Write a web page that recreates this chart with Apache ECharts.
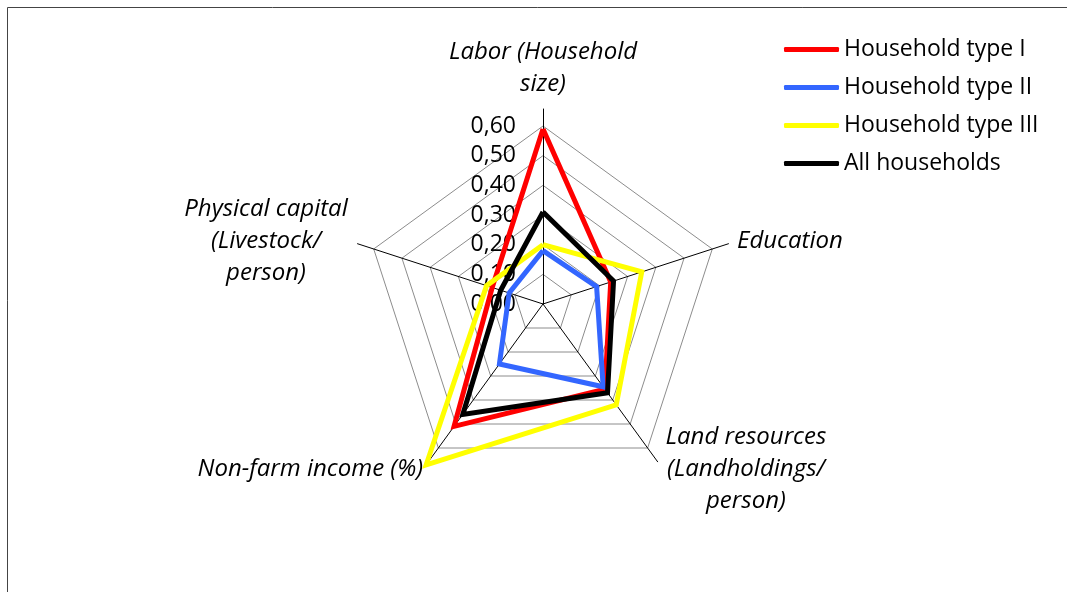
<!DOCTYPE html>
<html>
<head>
<meta charset="utf-8">
<script src="https://cdn.jsdelivr.net/npm/echarts@6/dist/echarts.min.js"></script>
<style>
  html, body { margin: 0; padding: 0; background: #fff; }
  #main { width: 1067px; height: 592px; }
</style>
</head>
<body>
<div id="main"></div>
<script>
// indicators, counter-clockwise from the top
const indicatorNames = [
  'Labor (Household\nsize)',
  'Physical capital\n(Livestock/\nperson)',
  'Non-farm income (%)',
  'Land resources\n(Landholdings/\nperson)',
  'Education'
]
const seriesNames = ['Household type I', 'Household type II', 'Household type III', 'All households']
const typeI = [0.59, 0.18, 0.51, 0.355, 0.24]
const typeII = [0.18, 0.12, 0.25, 0.345, 0.19]
const typeIII = [0.20, 0.20, 0.67, 0.42, 0.35]
const allHouseholds = [0.31, 0.15, 0.46, 0.37, 0.25]
const tickValues = [0, 0.1, 0.2, 0.3, 0.4, 0.5, 0.6]
const colors = ['#FF0000', '#3366FF', '#FFFF00', '#000000']

const chart = echarts.init(document.getElementById('main'))
const font = '"Open Sans", "Liberation Sans", sans-serif'

const option = {
  animation: false,
  graphic: [{
    type: 'rect',
    shape: { x: 7.5, y: 7.5, width: 1200, height: 800 },
    style: { fill: 'none', stroke: '#444', lineWidth: 1 },
    silent: true
  }],
  legend: {
    orient: 'vertical',
    left: 784,
    top: 37.5,
    padding: 0,
    itemWidth: 55,
    itemHeight: 5,
    itemGap: 14,
    icon: 'roundRect',
    textStyle: { fontFamily: font, fontSize: 23, color: '#000', lineHeight: 24 },
    data: seriesNames
  },
  // value labels on the top spoke
  grid: { left: 543, top: 126, width: 10, height: 178 },
  xAxis: { type: 'value', show: false },
  yAxis: {
    type: 'value',
    min: 0,
    max: 0.6,
    interval: 0.1,
    axisLine: { show: false },
    axisTick: { show: false },
    splitLine: { show: false },
    axisLabel: {
      margin: 27,
      fontFamily: font,
      fontSize: 23,
      color: '#000',
      formatter: v => v.toFixed(2).replace('.', ',')
    }
  },
  radar: [
    {
      center: [543, 304],
      radius: 178,
      splitNumber: tickValues.length - 1,
      shape: 'polygon',
      nameGap: 26,
      indicator: indicatorNames.map(n => ({ name: n, min: 0, max: 0.6 })),
      axisName: {
        color: '#000',
        fontFamily: font,
        fontSize: 24,
        fontStyle: 'italic',
        lineHeight: 32,
        formatter: name => {
          if (name.indexOf('\n') > 0 && name.indexOf('Labor') < 0) {
            return name.split('\n').map(s => '{c|' + s + '}').join('\n')
          }
          return name
        },
        rich: {
          c: { width: 166, align: 'center', fontFamily: font, fontSize: 24, fontStyle: 'italic', lineHeight: 32, color: '#000' }
        }
      },
      axisLine: { show: false },
      splitLine: { lineStyle: { color: '#8c8c8c', width: 1 } },
      splitArea: { show: false }
    },
    {
      // longer black spokes
      center: [543, 304],
      radius: 195,
      shape: 'polygon',
      indicator: indicatorNames.map(n => ({ name: n, min: 0, max: 1 })),
      axisName: { show: false },
      axisLine: { lineStyle: { color: '#000', width: 1 } },
      splitLine: { show: false },
      splitArea: { show: false }
    }
  ],
  series: [typeI, typeII, typeIII, allHouseholds].map((d, i) => ({
    name: seriesNames[i],
    type: 'radar',
    radarIndex: 0,
    symbol: 'none',
    itemStyle: { color: colors[i] },
    lineStyle: { color: colors[i], width: 5, join: 'miter' },
    data: [{ value: d, name: seriesNames[i] }]
  }))
}
option && chart.setOption(option)
</script>
</body>
</html>
